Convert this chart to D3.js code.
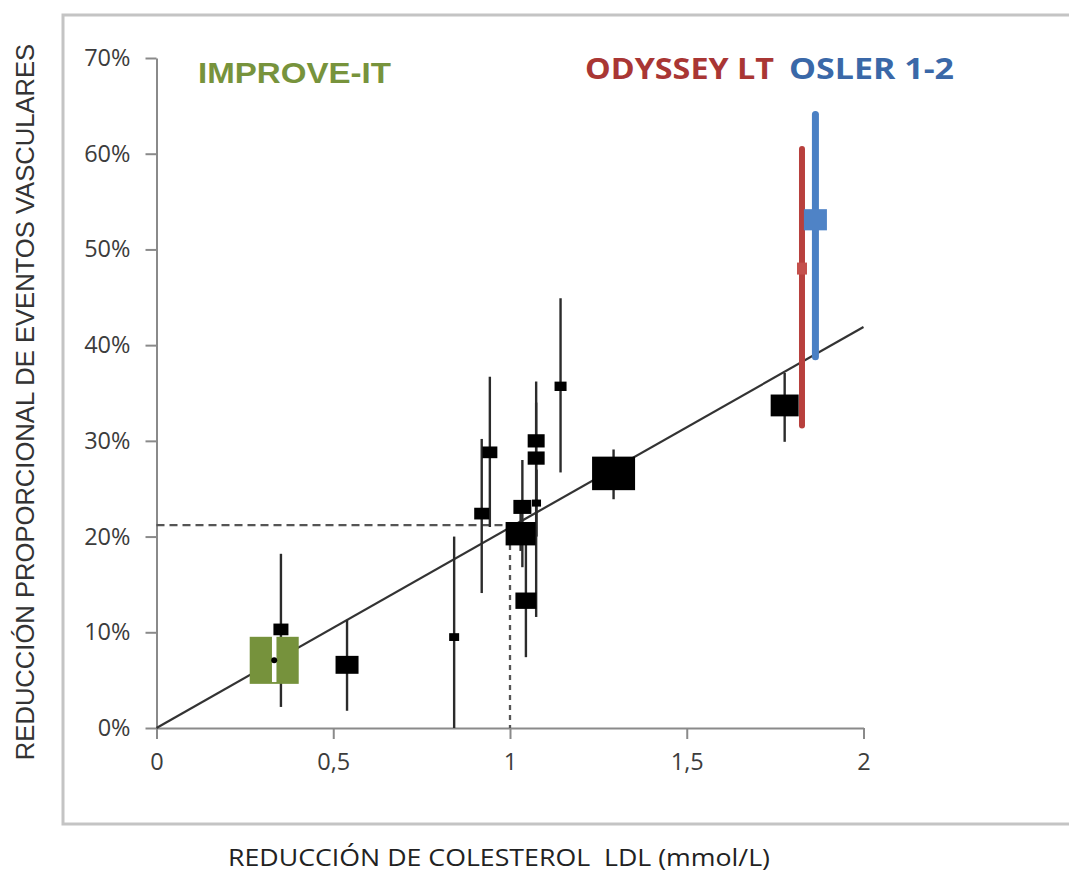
<!DOCTYPE html>
<html><head><meta charset="utf-8">
<script src="https://cdn.jsdelivr.net/npm/d3@7"></script>
<style>html,body{margin:0;padding:0;background:#fff;}svg{display:block;}</style>
</head><body>
<svg id="c" width="1069" height="880"></svg>
<script>
// ---- data ----
const xTicks = [0, 0.5, 1, 1.5, 2];
const xTickLabels = ["0", "0,5", "1", "1,5", "2"];
const yTicks = [0, 10, 20, 30, 40, 50, 60, 70];
const yTickLabels = ["0%", "10%", "20%", "30%", "40%", "50%", "60%", "70%"];

// statin trials (black squares): LDL reduction, proportional event reduction, CI, weight
const trialX = [0.352, 0.539, 0.842, 0.920, 0.943, 1.030, 1.035, 1.075, 1.045, 1.074, 1.074, 1.143, 1.293, 1.777];
const trialY = [10.3, 6.6, 9.5, 22.4, 28.8, 20.3, 23.1, 23.5, 13.3, 30.0, 28.2, 35.7, 26.6, 33.7];
const trialLo = [2.2, 1.8, 0, 14.1, 21.0, 18.5, 16.8, 20.0, 7.4, 23.6, 11.6, 26.7, 23.9, 29.9];
const trialHi = [18.2, 11.3, 20.0, 30.2, 36.7, 22.5, 28.0, 27.0, 19.5, 36.2, 34.0, 44.9, 29.1, 37.1];
const trialWeight = [122, 286, 54, 122, 122, 487, 175, 44, 238, 156, 156, 78, 1000, 424];

// highlighted trials
const hlNames = ["IMPROVE-IT", "ODYSSEY LT", "OSLER 1-2"];
const hlX = [0.333, 1.826, 1.864];
const hlY = [7.07, 48.0, 53.1];
const hlLo = [4.8, 31.6, 38.8];
const hlHi = [9.6, 60.5, 64.1];
const hlWeight = [1299, 54, 286];

// regression line and reference
const regX = [0, 2];
const regY = [0, 41.9];
const refX = 1;
const refY = 21.2;

// ---- drawing ----
const svg = d3.select("#c");
const x = d3.scaleLinear().domain([0, 2]).range([156.5, 863.5]);
const y = d3.scaleLinear().domain([0, 70]).range([728, 58]);
const size = d3.scaleSqrt().domain([0, 1000]).range([0, 43]);

// frame
svg.append("rect").attr("x", 63).attr("y", 15).attr("width", 1030).attr("height", 809)
  .attr("fill", "none").attr("stroke", "#c4c4c4").attr("stroke-width", 3);

const tickFont = "'Open Sans', sans-serif";

// y axis
const yAxis = d3.axisLeft(y).tickValues(yTicks).tickSize(11).tickSizeOuter(0)
  .tickFormat((d, i) => yTickLabels[i]).tickPadding(15);
const gy = svg.append("g").attr("transform", `translate(${x(0)},0)`).call(yAxis);
gy.select(".domain").attr("stroke", "#8a8a8a").attr("stroke-width", 2);
gy.selectAll(".tick line").attr("stroke", "#8a8a8a").attr("stroke-width", 2);
gy.selectAll(".tick text").attr("font-family", tickFont).attr("font-size", 23.5).attr("fill", "#3c3c3c");

// x axis
const xAxis = d3.axisBottom(x).tickValues(xTicks).tickSize(11).tickSizeOuter(0)
  .tickFormat((d, i) => xTickLabels[i]).tickPadding(14);
const gx = svg.append("g").attr("transform", `translate(0,${y(0)})`).call(xAxis);
gx.select(".domain").attr("stroke", "#8a8a8a").attr("stroke-width", 2);
gx.selectAll(".tick line").attr("stroke", "#8a8a8a").attr("stroke-width", 2);
gx.selectAll(".tick text").attr("font-family", tickFont).attr("font-size", 23.5).attr("fill", "#3c3c3c");

// dashed reference lines
svg.append("line").attr("x1", x(0)).attr("x2", x(refX)).attr("y1", y(refY)).attr("y2", y(refY))
  .attr("stroke", "#555").attr("stroke-width", 2.3).attr("stroke-dasharray", "8,5");
svg.append("line").attr("x1", x(refX)).attr("x2", x(refX)).attr("y1", y(refY)).attr("y2", y(0))
  .attr("stroke", "#555").attr("stroke-width", 2.3).attr("stroke-dasharray", "5,5");

// regression line
svg.append("line").attr("x1", x(regX[0])).attr("y1", y(regY[0])).attr("x2", x(regX[1])).attr("y2", y(regY[1]))
  .attr("stroke", "#333").attr("stroke-width", 2.2);

// black trials
const trials = trialX.map((d, i) => ({ x: d, y: trialY[i], lo: trialLo[i], hi: trialHi[i], w: trialWeight[i] }));
svg.append("g").selectAll("line").data(trials).join("line")
  .attr("x1", d => x(d.x)).attr("x2", d => x(d.x))
  .attr("y1", d => y(d.lo)).attr("y2", d => y(d.hi))
  .attr("stroke", "#2b2b2b").attr("stroke-width", 2.4);
svg.append("g").selectAll("rect").data(trials).join("rect")
  .attr("x", d => x(d.x) - size(d.w) / 2)
  .attr("y", d => y(d.y) - size(d.w) * 0.78 / 2)
  .attr("width", d => size(d.w))
  .attr("height", d => size(d.w) * 0.78)
  .attr("fill", "#000");

// IMPROVE-IT
const impW = size(hlWeight[0]);
svg.append("rect").attr("x", x(hlX[0]) - impW / 2).attr("y", y(hlY[0]) - impW * 0.96 / 2)
  .attr("width", impW).attr("height", impW * 0.96).attr("fill", "#76923c");
svg.append("line").attr("x1", x(hlX[0])).attr("x2", x(hlX[0]))
  .attr("y1", y(hlLo[0])).attr("y2", y(hlHi[0]))
  .attr("stroke", "#fff").attr("stroke-width", 4.5);
svg.append("circle").attr("cx", x(hlX[0])).attr("cy", y(hlY[0])).attr("r", 3).attr("fill", "#000");

// ODYSSEY LT (red) and OSLER (blue)
const barCols = [null, "#b8403d", "#4a80c4"];
const boxCols = [null, "#c4504c", "#4f83c6"];
const barW = [0, 6, 7];
[1, 2].forEach(i => {
  svg.append("line").attr("x1", x(hlX[i])).attr("x2", x(hlX[i]))
    .attr("y1", y(hlLo[i])).attr("y2", y(hlHi[i]))
    .attr("stroke", barCols[i]).attr("stroke-width", barW[i]).attr("stroke-linecap", "round");
  const s = size(hlWeight[i]);
  const h = i === 1 ? s * 1.2 : s * 0.92;
  svg.append("rect").attr("x", x(hlX[i]) - s / 2).attr("y", y(hlY[i]) - h / 2)
    .attr("width", s).attr("height", h).attr("fill", boxCols[i]);
});

// labels
svg.append("text").attr("x", 198).attr("y", 82.5).text(hlNames[0])
  .attr("font-family", "'Liberation Sans', Arial, sans-serif").attr("font-weight", "bold")
  .attr("font-size", 30).attr("fill", "#77933c")
  .attr("textLength", 193).attr("lengthAdjust", "spacingAndGlyphs");
svg.append("text").attr("x", 585).attr("y", 79).text(hlNames[1])
  .attr("font-family", "'Open Sans', sans-serif").attr("font-weight", "bold")
  .attr("font-size", 29).attr("fill", "#a93634")
  .attr("textLength", 189).attr("lengthAdjust", "spacingAndGlyphs");
svg.append("text").attr("x", 789).attr("y", 79).text(hlNames[2])
  .attr("font-family", "'Open Sans', sans-serif").attr("font-weight", "bold")
  .attr("font-size", 29).attr("fill", "#3a68a8")
  .attr("textLength", 165).attr("lengthAdjust", "spacingAndGlyphs");

// axis titles
svg.append("g").attr("transform", "rotate(-90)")
  .append("text").attr("x", -402).attr("y", 34)
  .attr("text-anchor", "middle").text("REDUCCIÓN PROPORCIONAL DE EVENTOS VASCULARES")
  .attr("font-family", "'Liberation Sans', Arial, sans-serif").attr("font-size", 25.6).attr("fill", "#333");
svg.append("text").attr("x", 228).attr("y", 866).style("white-space", "pre")
  .text("REDUCCIÓN DE COLESTEROL  LDL (mmol/L)")
  .attr("font-family", "'Open Sans', sans-serif").attr("font-size", 23).attr("fill", "#222")
  .attr("textLength", 542).attr("lengthAdjust", "spacingAndGlyphs");
</script>
</body></html>
